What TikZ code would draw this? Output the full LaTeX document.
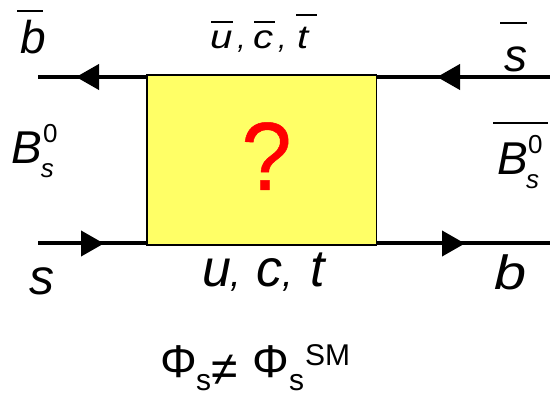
\documentclass[tikz,border=0pt]{standalone}
\usepackage{fontspec}
\usepackage{graphicx}
\setmainfont{Liberation Sans}
\newfontfamily\qfont[FakeBold=0.5]{Liberation Sans}
\usetikzlibrary{arrows.meta}
\newcommand\fs[1]{\fontsize{#1}{#1}\selectfont}
\newcommand\barred[3]{\rlap{\hspace{#1}\rule[#2]{#3}{2pt}}}
\newcommand\wide[1]{\scalebox{1.22}[1]{#1}}
\tikzset{
  x=1pt,y=-1pt,
  lbl/.style={inner sep=0pt,outer sep=0pt,anchor=base west,text=black},
  quark/.style={lbl,font=\fs{46}\itshape},
  wire/.style={line width=4pt,black},
  tip/.style={wire,-{Triangle[length=23pt,width=25pt]}},
  blob/.style={draw=black,line width=1.8pt,inner sep=0pt,outer sep=0pt,anchor=north west,minimum width=229.5pt,minimum height=170pt}
}
\definecolor{blobfill}{HTML}{FFFF66}
\begin{document}
\begin{tikzpicture}
\useasboundingbox (0,0) rectangle (550,393);
\node[blob,fill=blobfill] (box) at (147,75) {};
\node[inner sep=0pt,anchor=base,text=red,font=\qfont\fs{97}] (q) at (266.5,190) {\scalebox{0.93}[1]{?}};
% free ends and arrow tips
\coordinate (tl) at (38,77);
\coordinate (tlt) at (76,77);
\coordinate (tr) at (550,77);
\coordinate (trt) at (437,77);
\coordinate (bl) at (38,243.5);
\coordinate (blt) at (104,243.5);
\coordinate (br) at (550,243.5);
\coordinate (brt) at (465,243.5);
\draw[wire] (tl) -- (tl -| box.west);
\draw[tip] (tl -| box.west) -- (tlt);
\draw[wire] (tr) -- (tr -| box.east);
\draw[tip] (tr) -- (trt);
\draw[wire] (bl) -- (bl -| box.west);
\draw[tip] (bl) -- (blt);
\draw[wire] (br) -- (br -| box.east);
\draw[tip] (br -| box.east) -- (brt);
% quark labels
\node[quark] (bbar) at (20,54) {\barred{-3pt}{42pt}{26pt}b};
\node[quark] (sbar) at (504,72) {\barred{-4pt}{48pt}{27pt}s};
\node[quark,font=\fs{50}\itshape] (s) at (30,295) {s};
\node[quark,font=\fs{48}\itshape] (b) at (494,290) {\scalebox{1.2}[1]{b}};
% top internal label
\node[lbl,font=\fs{33}\itshape] (tu) at (210,49) {\barred{1pt}{26pt}{22pt}\wide{u}\fs{30}\,,};
\node[lbl,font=\fs{33}\itshape] (tc) at (253,49) {\barred{1pt}{26pt}{21pt}\wide{c}\fs{30}\,,};
\node[lbl,font=\fs{33}\itshape] (tt) at (297,49) {\barred{-1pt}{33pt}{21pt}\wide{t}};
% bottom internal label
\node[lbl,font=\fs{52}\itshape] (bu) at (202,287) {u\fs{38},};
\node[lbl,font=\fs{52}\itshape] (bc) at (256,287) {c\fs{38},};
\node[lbl,font=\fs{52}\itshape] (bt) at (310,287) {t};
% meson labels
\node[quark] (B) at (12,164) {B};
\node[lbl,font=\fs{26}] (B0) at (43,143) {0};
\node[lbl,font=\fs{26}\itshape] (Bs) at (41,178) {s};
\node[quark] (Bb) at (497,175) {\barred{-4pt}{51pt}{55pt}B};
\node[lbl,font=\fs{26}] (Bb0) at (528,154) {0};
\node[lbl,font=\fs{26}\itshape] (Bbs) at (526,189) {s};
% phase inequality
\node[lbl,font=\fs{46}] (ph1) at (160,378) {Φ};
\node[lbl,font=\fs{30}] (s1) at (196,391) {s};
\node[lbl,font=\fs{48}] (ne) at (211,386) {≠};
\node[lbl,font=\fs{46}] (ph2) at (252,378) {Φ};
\node[lbl,font=\fs{30}] (s2) at (289,391) {s};
\node[lbl,font=\fs{30}] (sm) at (305,366) {SM};
\end{tikzpicture}
\end{document}
